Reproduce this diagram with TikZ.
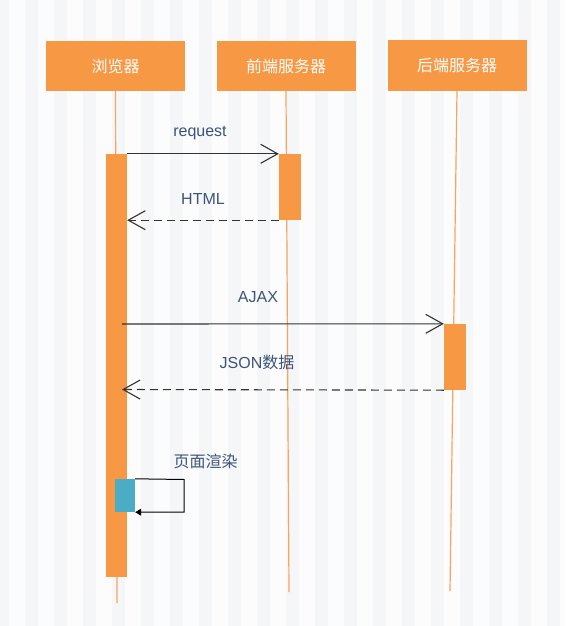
\documentclass[tikz,border=0pt]{standalone}
\usepackage{fontspec}
\setmainfont{Liberation Sans}
\newfontfamily\cjk{Noto Sans CJK SC}
\usetikzlibrary{arrows.meta}
\definecolor{bgA}{HTML}{FCFCFC}
\definecolor{bgB}{HTML}{F5F6F8}
\definecolor{orng}{HTML}{F79845}
\definecolor{lifec}{HTML}{F8A462}
\definecolor{lblc}{HTML}{3D5478}
\definecolor{msgc}{HTML}{333333}
\definecolor{tealc}{HTML}{4BACC6}
\tikzset{
  head/.style={rectangle, fill=orng, text=white, minimum width=139pt, minimum height=50pt, inner sep=0pt, font=\cjk\fontsize{16}{19}\selectfont},
  lifeline/.style={draw=lifec, line width=1.2pt},
  actbar/.style={rectangle, fill=orng, inner sep=0pt},
  msgline/.style={draw=msgc, line width=1.1pt, -{Straight Barb[length=17pt,width=19pt,line width=1.1pt]}},
  retline/.style={msgline, dash pattern=on 8pt off 5pt},
  selfline/.style={draw=black, line width=1pt, -{Triangle[length=6pt,width=7pt]}},
  lbl/.style={text=lblc, font=\fontsize{16}{19}\selectfont, inner sep=0pt}
}
\begin{document}
\begin{tikzpicture}[x=1pt,y=-1pt]
\fill[bgA] (0,0) rectangle (566,626);
\useasboundingbox (0,0) rectangle (566,626);
\foreach \i in {0,...,19} \fill[bgB] ({-4+29*\i},0) rectangle ++(12.5,626);

% headers
\node[head] (hB) at (115.5,66) {浏览器};
\node[head] (hF) at (286,66) {前端服务器};
\node[head] (hS) at (457,65.5) {后端服务器};

% lifelines
\coordinate (eB) at (117,603);
\coordinate (eF) at (289,592);
\coordinate (eS) at (450,591);
\draw[lifeline] (hB.south) -- (eB);
\draw[lifeline] (hF.south) -- (eF);
\draw[lifeline] (hS.south) -- (eS);

% activation bars
\node[actbar, minimum width=21pt, minimum height=423pt] (aB) at (116.5,365.5) {};
\node[actbar, minimum width=22pt, minimum height=66pt] (aF) at (290,187) {};
\node[actbar, minimum width=22pt, minimum height=66pt] (aS) at (455,357) {};
\node[rectangle, fill=tealc, inner sep=0pt, minimum width=20pt, minimum height=33pt] (aR) at (125,495.5) {};

% messages
\draw[msgline] (aB.north east) -- (aF.north west);
\node[lbl] (lReq) at (200,133) {request};
\draw[retline] (aF.south west) -- (aB.east |- aF.south);
\node[lbl] (lHtml) at (203,199) {HTML};
\coordinate (ajB) at (122,324);
\draw[msgline] (ajB) -- (aS.north west);
\node[lbl] (lAjax) at (258,297) {AJAX};
\coordinate (jsB) at (122,389.5);
\draw[retline] (aS.south west) -- (jsB);
\node[lbl] (lJson) at (257,362) {JSON{\cjk 数据}};

% self call
\coordinate (sc1) at (184,479.5);
\coordinate (sc2) at (184,512);
\draw[selfline] (aR.north east) -- (sc1) -- (sc2) -- (aR.south east);
\node[lbl, font=\cjk\fontsize{16}{19}\selectfont] (lRender) at (205.5,461) {页面渲染};
\end{tikzpicture}
\end{document}
